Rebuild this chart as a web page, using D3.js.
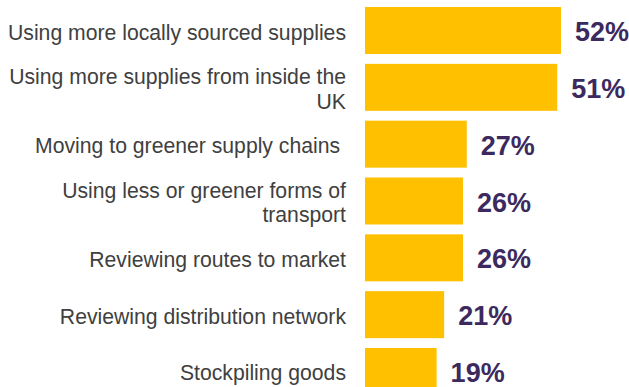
<!DOCTYPE html>
<html>
<head>
<meta charset="utf-8">
<script src="https://cdn.jsdelivr.net/npm/d3@7"></script>
<style>
  html, body { margin: 0; padding: 0; background: #ffffff; }
  svg { display: block; }
  .cat { white-space: pre; }
</style>
</head>
<body>
<svg id="chart" width="629" height="387"></svg>
<script>
// Supply-chain actions, share of respondents (%)
const categories = [
  "Using more locally sourced supplies",
  "Using more supplies from inside the\nUK",
  "Moving to greener supply chains ",
  "Using less or greener forms of\ntransport",
  "Reviewing routes to market",
  "Reviewing distribution network",
  "Stockpiling goods"
];
const values = [52, 51, 27, 26, 26, 21, 19];
const valueLabels = ["52%", "51%", "27%", "26%", "26%", "21%", "19%"];

const svg = d3.select("#chart");

const barLeft = 365;
const x = d3.scaleLinear().domain([0, 52]).range([barLeft, 561]);
const y = d3.scaleBand()
  .domain(d3.range(categories.length))
  .range([7, 395])
  .paddingInner(0.173)
  .paddingOuter(0);

const rows = svg.append("g")
  .selectAll("g")
  .data(values.map((v, i) => ({ v, i })))
  .join("g");

// bars
rows.append("rect")
  .attr("x", x(0))
  .attr("y", d => y(d.i))
  .attr("width", d => x(d.v) - x(0))
  .attr("height", y.bandwidth())
  .attr("fill", "#FFC000");

// value labels
rows.append("text")
  .attr("x", d => x(d.v) + 14)
  .attr("y", d => y(d.i) + y.bandwidth() / 2 + 1.5)
  .attr("dominant-baseline", "central")
  .attr("font-family", "Liberation Sans, Arial, sans-serif")
  .attr("font-weight", "bold")
  .attr("font-size", 27)
  .attr("fill", "#3c2a5e")
  .text(d => valueLabels[d.i]);

// category labels, right-aligned, possibly on two lines
const lineH = 24.5;
rows.append("text")
  .attr("class", "cat")
  .attr("text-anchor", "end")
  .attr("font-family", "Liberation Sans, Arial, sans-serif")
  .attr("font-size", 21.2)
  .attr("fill", "#404040")
  .each(function (d) {
    const lines = categories[d.i].split("\n");
    const cy = y(d.i) + y.bandwidth() / 2;
    const first = cy - (lines.length - 1) * lineH / 2 + 1.5;
    const t = d3.select(this);
    lines.forEach((ln, k) => {
      t.append("tspan")
        .attr("x", 346)
        .attr("y", first + k * lineH)
        .attr("dominant-baseline", "central")
        .text(ln);
    });
  });
</script>
</body>
</html>
